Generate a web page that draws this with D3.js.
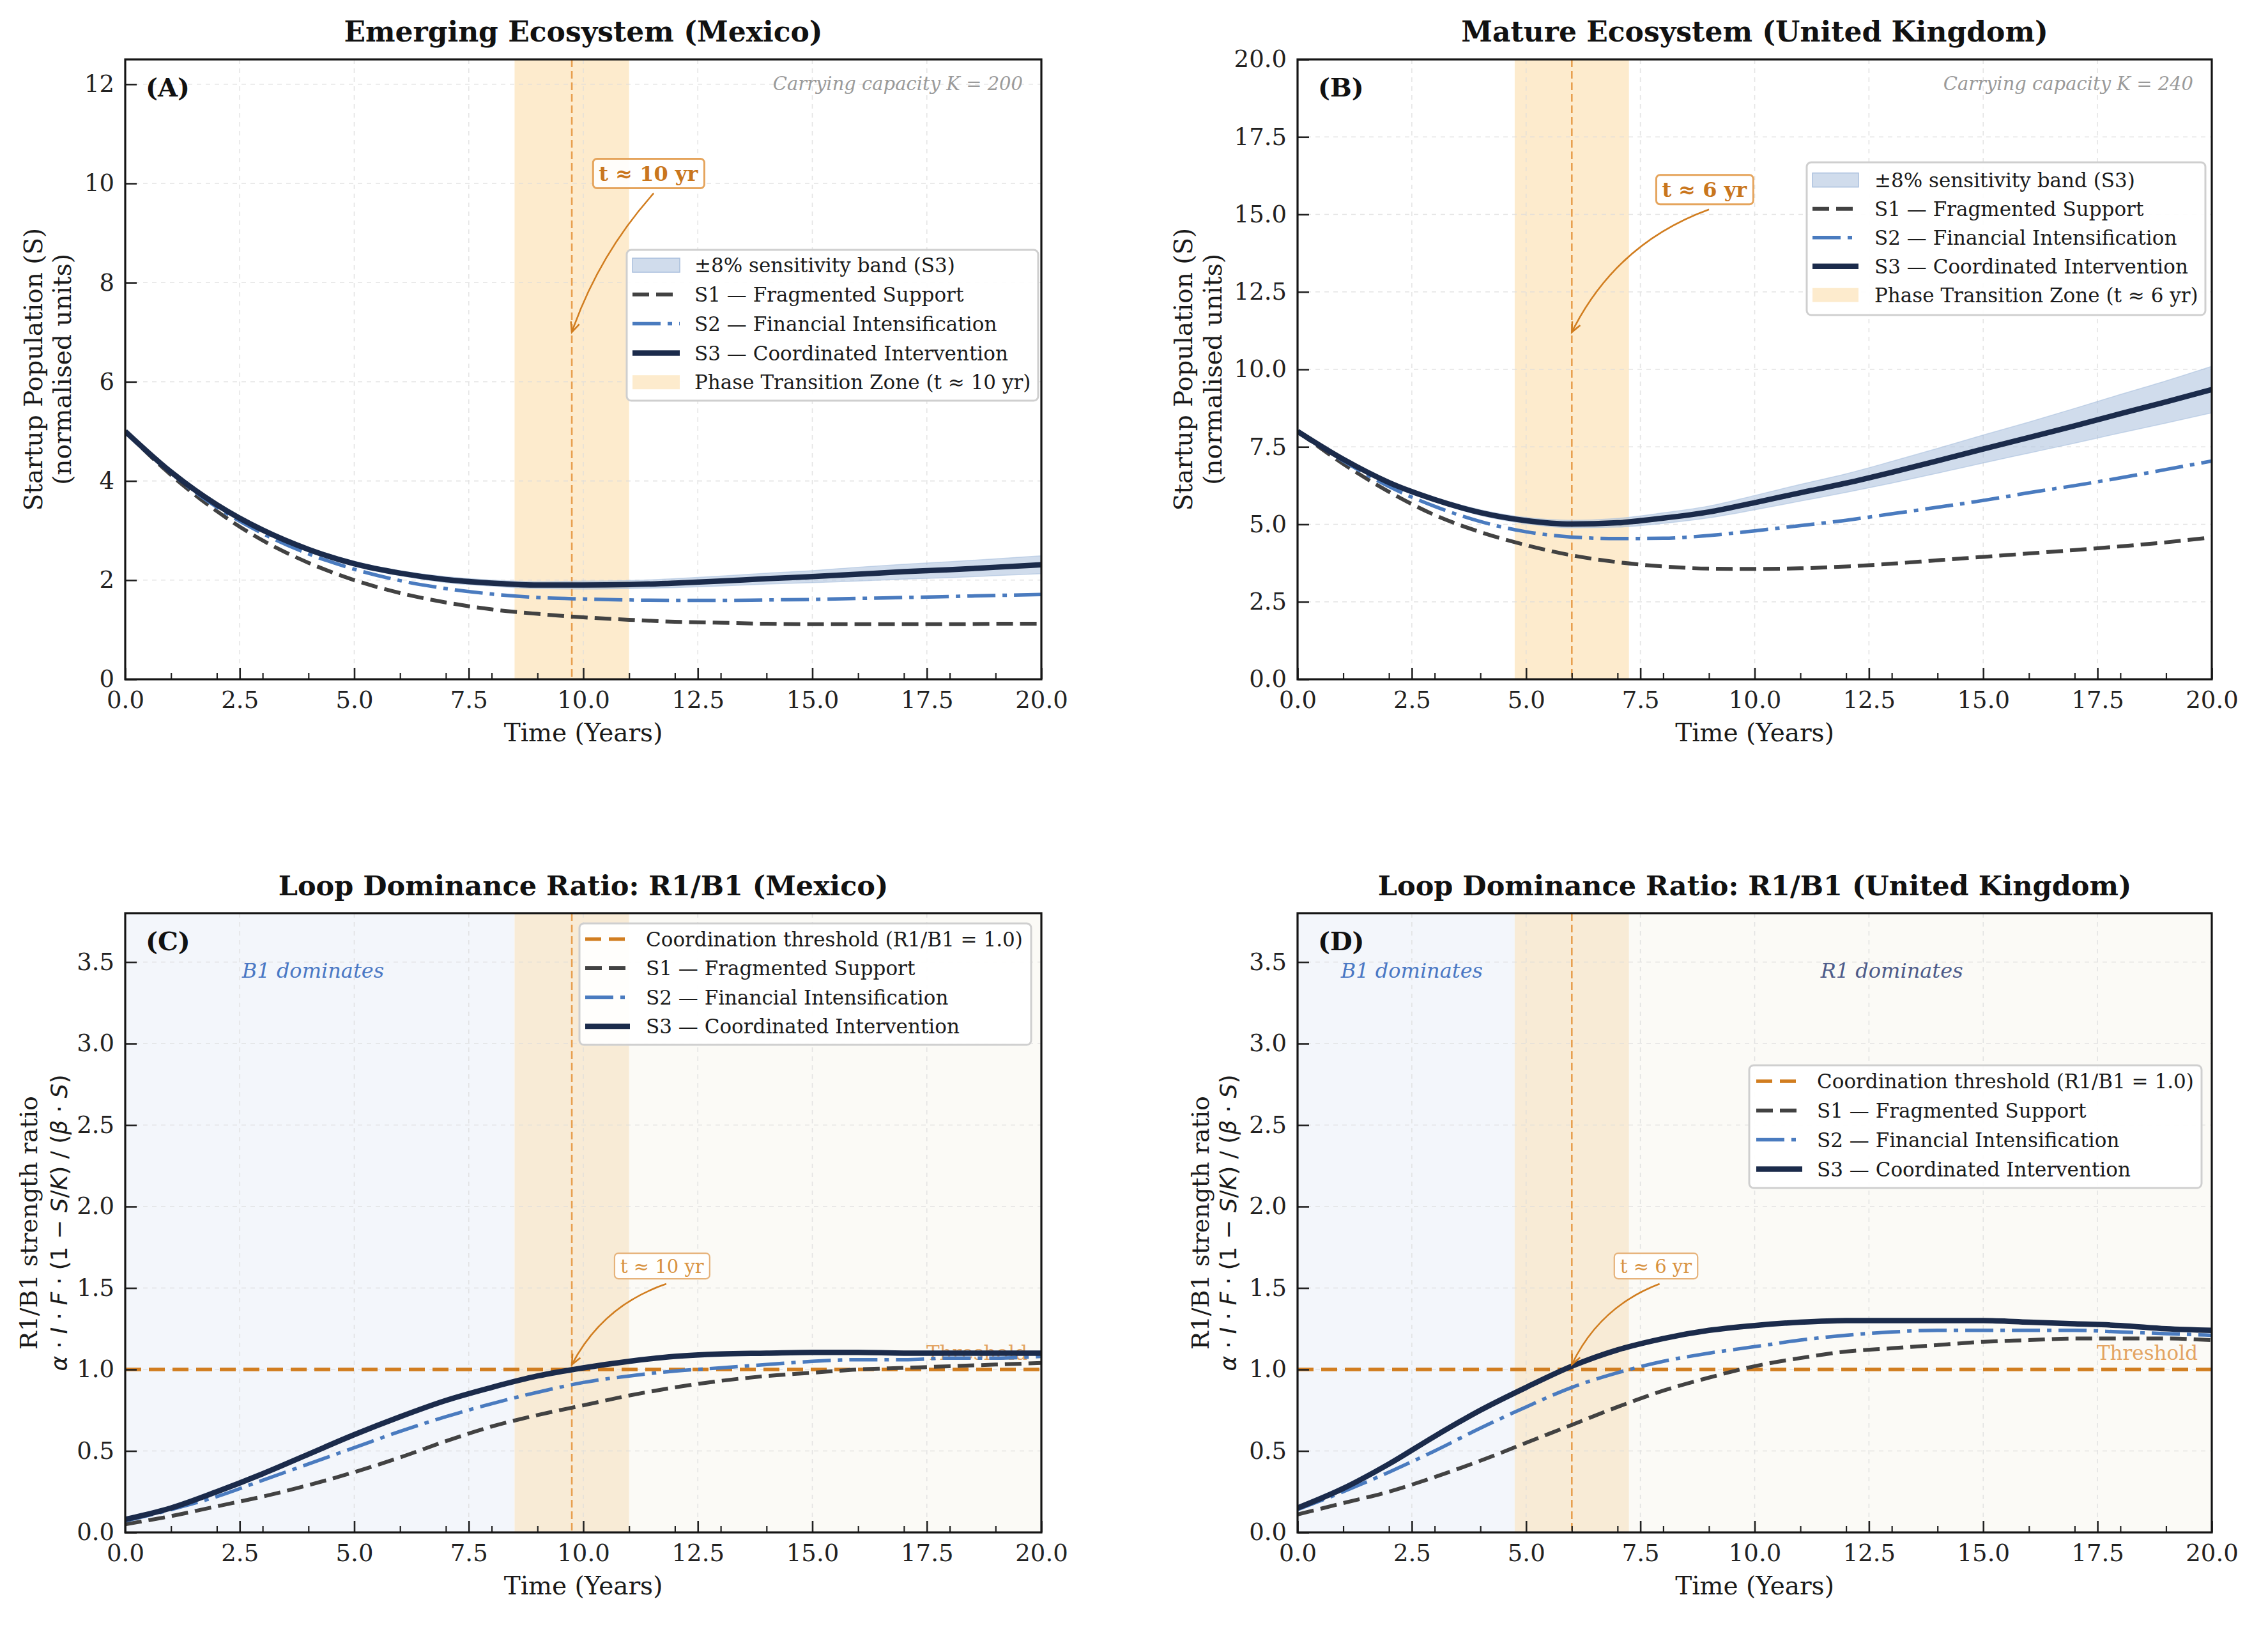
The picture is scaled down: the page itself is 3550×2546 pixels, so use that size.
<!DOCTYPE html>
<html><head><meta charset="utf-8">
<script src="https://cdn.jsdelivr.net/npm/d3@7"></script>
<style>body{margin:0;background:#fff}svg{display:block}</style>
</head><body>
<svg id="chart" width="3550" height="2546"></svg>
<script>
// ---------------- DATA ----------------
const years = [0,1,2,3,4,5,6,7,8,9,10,11,12,13,14,15,16,17,18,19,20];

const mexPopS1 = [5.00,4.12,3.39,2.80,2.35,2.00,1.74,1.55,1.41,1.32,1.25,1.20,1.16,1.14,1.12,1.11,1.11,1.11,1.11,1.12,1.12];
const mexPopS2 = [5.00,4.16,3.47,2.94,2.53,2.22,1.99,1.83,1.72,1.65,1.62,1.60,1.59,1.59,1.60,1.61,1.63,1.65,1.67,1.69,1.71];
const mexPopS3 = [5.00,4.18,3.52,3.01,2.62,2.33,2.14,2.01,1.94,1.90,1.90,1.91,1.94,1.98,2.03,2.07,2.12,2.17,2.21,2.26,2.31];
const mexBandLow  = [5.00,4.16,3.49,2.97,2.58,2.28,2.09,1.95,1.88,1.83,1.82,1.83,1.85,1.88,1.92,1.95,1.98,2.02,2.05,2.09,2.13];
const mexBandHigh = [5.00,4.20,3.55,3.05,2.66,2.38,2.19,2.07,2.00,1.97,1.98,1.99,2.03,2.08,2.14,2.19,2.26,2.32,2.37,2.43,2.49];

const ukPopS1 = [8.00,6.95,6.05,5.30,4.75,4.33,4.00,3.78,3.64,3.57,3.56,3.58,3.64,3.73,3.84,3.95,4.06,4.17,4.29,4.42,4.58];
const ukPopS2 = [8.00,7.05,6.22,5.58,5.09,4.76,4.59,4.54,4.55,4.64,4.79,4.96,5.13,5.34,5.55,5.77,6.02,6.25,6.50,6.77,7.04];
const ukPopS3 = [8.00,7.10,6.35,5.80,5.38,5.12,5.01,5.05,5.20,5.40,5.70,6.02,6.33,6.68,7.05,7.43,7.80,8.18,8.57,8.95,9.35];
const ukBandLow  = [8.00,7.07,6.30,5.73,5.29,5.02,4.89,4.91,5.03,5.21,5.47,5.75,6.03,6.33,6.65,6.98,7.30,7.62,7.95,8.27,8.60];
const ukBandHigh = [8.00,7.13,6.40,5.87,5.47,5.22,5.13,5.19,5.37,5.59,5.93,6.29,6.63,7.03,7.45,7.88,8.30,8.74,9.19,9.63,10.10];

const mexRatioS1 = [0.05,0.10,0.16,0.22,0.29,0.37,0.46,0.56,0.65,0.72,0.78,0.84,0.89,0.93,0.96,0.98,1.00,1.01,1.02,1.03,1.04];
const mexRatioS2 = [0.07,0.14,0.22,0.32,0.42,0.52,0.62,0.71,0.79,0.86,0.92,0.96,0.99,1.01,1.03,1.05,1.06,1.06,1.07,1.07,1.08];
const mexRatioS3 = [0.08,0.15,0.25,0.36,0.48,0.60,0.71,0.81,0.89,0.96,1.01,1.05,1.08,1.095,1.10,1.105,1.105,1.10,1.10,1.10,1.10];

const ukRatioS1 = [0.11,0.18,0.25,0.34,0.44,0.55,0.66,0.77,0.87,0.95,1.02,1.07,1.11,1.13,1.15,1.17,1.18,1.19,1.19,1.19,1.18];
const ukRatioS2 = [0.14,0.25,0.37,0.50,0.64,0.77,0.89,0.98,1.05,1.10,1.14,1.18,1.21,1.23,1.24,1.24,1.24,1.24,1.23,1.22,1.21];
const ukRatioS3 = [0.15,0.27,0.42,0.59,0.75,0.89,1.02,1.12,1.19,1.24,1.27,1.29,1.30,1.30,1.30,1.30,1.29,1.28,1.27,1.25,1.24];

const xTicks = [0,2.5,5,7.5,10,12.5,15,17.5,20];
const xMinorTicks = [1,2,3,4,6,7,8,9,11,12,13,14,16,17,18,19];
const popTicksMexico = [0,2,4,6,8,10,12];
const popTicksUK = [0,2.5,5,7.5,10,12.5,15,17.5,20];
const ratioTicks = [0,0.5,1,1.5,2,2.5,3,3.5];

const seriesLabels = ["S1 \u2014 Fragmented Support","S2 \u2014 Financial Intensification","S3 \u2014 Coordinated Intervention"];
const bandLabel = "\u00b18% sensitivity band (S3)";
const thresholdLabel = "Coordination threshold (R1/B1 = 1.0)";
const threshold = 1.0;

const mexTransition = 9.75, mexZone = [8.5, 11];
const ukTransition = 6.0, ukZone = [4.75, 7.25];
const mexK = 200, ukK = 240;

// ---------------- STYLE ----------------
const FONT = "DejaVu Serif";
const C_S1 = "#424242", C_S2 = "#4a7bbf", C_S3 = "#1b2b4b";
const C_ORANGE = "#d17d1f", C_ZONE = "#fdebcd", C_ZONE2 = "#f8ebd6";
const C_BLUEBG = "#f3f6fb", C_BEIGE = "#fbfaf6";
const seriesStyle = [
  {color:C_S1, width:6, dash:"26,11"},
  {color:C_S2, width:5.5, dash:"44,11,7,11"},
  {color:C_S3, width:8.5, dash:null}
];

const svg = d3.select("#chart").attr("font-family", FONT);
svg.append("rect").attr("width",3550).attr("height",2546).attr("fill","#fff");

const panels = [
  {key:"A", title:"Emerging Ecosystem (Mexico)", titleSize:44, left:196, top:93, w:1434, h:970,
   yDomain:[0,12.5], yTicks:popTicksMexico, yFmt:d3.format("d"), kind:"pop",
   series:[mexPopS1,mexPopS2,mexPopS3], band:[mexBandLow,mexBandHigh], trans:mexTransition, zone:mexZone, K:mexK,
   ylab:["Startup Population (S)","(normalised units)"], ylabX:[52,97],
   box:{t:11.42, v:10.2, text:"t \u2248 10 yr"}, arrowTo:[mexTransition, 7.0], rad:0.1,
   legend:{left:981, top:391, right:1625, bottom:627, row0:415, step:45.8, h0:990, h1:1064, tx:1087},
   zoneLabel:"Phase Transition Zone (t \u2248 10 yr)"},
  {key:"B", title:"Mature Ecosystem (United Kingdom)", titleSize:44, left:2031, top:93, w:1431, h:970,
   yDomain:[0,20], yTicks:popTicksUK, yFmt:d3.format(".1f"), kind:"pop",
   series:[ukPopS1,ukPopS2,ukPopS3], band:[ukBandLow,ukBandHigh], trans:ukTransition, zone:ukZone, K:ukK,
   ylab:["Startup Population (S)","(normalised units)"], ylabX:[1852,1898],
   box:{t:8.9, v:15.8, text:"t \u2248 6 yr"}, arrowTo:[ukTransition, 11.2], rad:0.2,
   legend:{left:2828, top:254, right:3452, bottom:493, row0:281.7, step:45, h0:2837, h1:2909, tx:2934},
   zoneLabel:"Phase Transition Zone (t \u2248 6 yr)"},
  {key:"C", title:"Loop Dominance Ratio: R1/B1 (Mexico)", titleSize:43, left:196, top:1429, w:1434, h:969,
   yDomain:[0,3.8], yTicks:ratioTicks, yFmt:d3.format(".1f"), kind:"ratio",
   series:[mexRatioS1,mexRatioS2,mexRatioS3], trans:mexTransition, zone:mexZone,
   ylabX:[44,92], b1:4.1, r1:null,
   box:{t:11.72, v:1.635, text:"t \u2248 10 yr"}, arrowTo:[mexTransition, 1.03], rad:0.2,
   legend:{left:907, top:1445, right:1614, bottom:1635, row0:1469.5, step:45.5, h0:916, h1:986, tx:1011}},
  {key:"D", title:"Loop Dominance Ratio: R1/B1 (United Kingdom)", titleSize:43, left:2031, top:1429, w:1431, h:969,
   yDomain:[0,3.8], yTicks:ratioTicks, yFmt:d3.format(".1f"), kind:"ratio",
   series:[ukRatioS1,ukRatioS2,ukRatioS3], trans:ukTransition, zone:ukZone,
   ylabX:[1878,1922], b1:2.5, r1:13,
   box:{t:7.84, v:1.635, text:"t \u2248 6 yr"}, arrowTo:[ukTransition, 1.03], rad:0.2,
   legend:{left:2738, top:1667, right:3446, bottom:1859, row0:1692, step:45.8, h0:2749, h1:2821, tx:2844}}
];

function drawArrow(g, x1, y1, x2, y2, rad, color, width) {
  const mx=(x1+x2)/2, my=(y1+y2)/2, dx=x2-x1, dy=y2-y1;
  const cx = mx - rad*dy, cy = my + rad*dx;
  const p = d3.path(); p.moveTo(x1,y1); p.quadraticCurveTo(cx,cy,x2,y2);
  g.append("path").attr("d", p.toString()).attr("fill","none").attr("stroke",color).attr("stroke-width",width);
  const ang = Math.atan2(y2-cy, x2-cx), L=17, W=0.42;
  const h = d3.path();
  h.moveTo(x2 - L*Math.cos(ang-W), y2 - L*Math.sin(ang-W));
  h.lineTo(x2, y2);
  h.lineTo(x2 - L*Math.cos(ang+W), y2 - L*Math.sin(ang+W));
  g.append("path").attr("d", h.toString()).attr("fill","none").attr("stroke",color).attr("stroke-width",width);
}

panels.forEach((P) => {
  const g = svg.append("g");
  const x = d3.scaleLinear().domain([0,20]).range([P.left, P.left+P.w]);
  const y = d3.scaleLinear().domain(P.yDomain).range([P.top+P.h, P.top]);
  const clipId = "clip"+P.key;
  svg.append("clipPath").attr("id", clipId).append("rect")
    .attr("x",P.left).attr("y",P.top).attr("width",P.w).attr("height",P.h);
  const inner = g.append("g").attr("clip-path", `url(#${clipId})`);

  // background spans
  if (P.kind === "ratio") {
    inner.append("rect").attr("x", x(0)).attr("width", x(P.zone[0])-x(0))
      .attr("y",P.top).attr("height",P.h).attr("fill",C_BLUEBG);
    inner.append("rect").attr("x", x(P.zone[1])).attr("width", x(20)-x(P.zone[1]))
      .attr("y",P.top).attr("height",P.h).attr("fill",C_BEIGE);
  }
  inner.append("rect").attr("x", x(P.zone[0])).attr("width", x(P.zone[1])-x(P.zone[0]))
    .attr("y",P.top).attr("height",P.h).attr("fill", P.kind==="ratio" ? C_ZONE2 : C_ZONE);

  // grid
  const grid = inner.append("g").attr("stroke","#dcdcdc").attr("stroke-width",1.6)
    .attr("stroke-dasharray","7,7").attr("opacity",0.75);
  xTicks.forEach(t => grid.append("line").attr("x1",x(t)).attr("x2",x(t)).attr("y1",P.top).attr("y2",P.top+P.h));
  P.yTicks.forEach(v => grid.append("line").attr("x1",P.left).attr("x2",P.left+P.w).attr("y1",y(v)).attr("y2",y(v)));

  // transition line
  inner.append("line").attr("x1",x(P.trans)).attr("x2",x(P.trans)).attr("y1",P.top).attr("y2",P.top+P.h)
    .attr("stroke","#e8a050").attr("stroke-width",2.6).attr("stroke-dasharray","12,6");

  if (P.kind === "ratio") {
    inner.append("line").attr("x1",x(0)).attr("x2",x(20)).attr("y1",y(threshold)).attr("y2",y(threshold))
      .attr("stroke",C_ORANGE).attr("stroke-width",5.5).attr("stroke-dasharray","25,12");
    inner.append("text").attr("x", x(20)-22).attr("y", y(threshold)-15).attr("text-anchor","end")
      .attr("font-size",31).attr("fill","#e3a462").text("Threshold");
    inner.append("text").attr("x", x(P.b1)).attr("y", y(3.45)).attr("dy","0.36em").attr("text-anchor","middle")
      .attr("font-size",32).attr("font-style","italic").attr("fill","#4a78c4").text("B1 dominates");
    if (P.r1 !== null) {
      inner.append("text").attr("x", x(P.r1)).attr("y", y(3.45)).attr("dy","0.36em").attr("text-anchor","middle")
        .attr("font-size",32).attr("font-style","italic").attr("fill","#4d5b8a").text("R1 dominates");
    }
  }

  // sensitivity band
  if (P.kind === "pop") {
    const area = d3.area().x((d,i)=>x(years[i])).y0((d,i)=>y(P.band[0][i])).y1((d,i)=>y(P.band[1][i]))
      .curve(d3.curveMonotoneX);
    inner.append("path").attr("d", area(years)).attr("fill","#a9bfdd").attr("fill-opacity",0.55)
      .attr("stroke","#a9bfdd").attr("stroke-width",1.5).attr("stroke-opacity",0.6);
  }

  // lines
  const line = d3.line().x((d,i)=>x(years[i])).y(d=>y(d)).curve(d3.curveMonotoneX);
  P.series.forEach((s, si) => {
    const st = seriesStyle[si];
    const p = inner.append("path").attr("d", line(s)).attr("fill","none")
      .attr("stroke", st.color).attr("stroke-width", st.width).attr("stroke-linejoin","round");
    if (st.dash) p.attr("stroke-dasharray", st.dash);
  });

  // annotation
  const ann = g.append("g");
  const bx = x(P.box.t), by = y(P.box.v);
  const isBold = P.kind === "pop";
  const txt = ann.append("text").attr("x",bx).attr("y",by).attr("dy","0.36em").attr("text-anchor","middle")
    .attr("font-size", isBold ? 32 : 29).attr("font-weight", isBold ? "bold" : "normal")
    .attr("fill", isBold ? "#c9761d" : "#d8923f").text(P.box.text);
  const bb = txt.node().getBBox();
  const padX = 9;
  const bTop = by - (isBold ? 23 : 20), bBot = by + (isBold ? 23 : 20);
  ann.insert("rect","text").attr("x", bb.x-padX).attr("y", bTop).attr("width", bb.width+2*padX)
    .attr("height", bBot-bTop).attr("rx",6).attr("fill","#fff").attr("fill-opacity",0.9)
    .attr("stroke", isBold ? "#e5a45c" : "#e6b27a").attr("stroke-width", isBold ? 3 : 2.2);
  const ax = x(P.arrowTo[0]), ay = y(P.arrowTo[1]);
  const sx = bb.x + bb.width*0.55, sy = bBot + 8;
  drawArrow(ann, sx, sy, ax, ay, P.rad, C_ORANGE, 2.6);

  // panel letter & note
  g.append("text").attr("x", P.left+32).attr("y", P.top+58).attr("font-size",40).attr("font-weight","bold")
    .attr("fill","#111").text(`(${P.key})`);
  if (P.kind === "pop") {
    g.append("text").attr("x", P.left+P.w-29).attr("y", P.top+48).attr("text-anchor","end")
      .attr("font-size",29).attr("font-style","italic").attr("fill","#9a9a9a")
      .text(`Carrying capacity K = ${P.K}`);
  }

  // legend
  const L = P.legend;
  const lg = g.append("g");
  lg.append("rect").attr("x",L.left).attr("y",L.top).attr("width",L.right-L.left).attr("height",L.bottom-L.top)
    .attr("rx",7).attr("fill","#fff").attr("fill-opacity",0.93).attr("stroke","#cfcfcf").attr("stroke-width",3);
  const items = [];
  if (P.kind === "pop") items.push({type:"band", label:bandLabel});
  else items.push({type:"thr", label:thresholdLabel});
  seriesLabels.forEach((lab, si) => items.push({type:"line", si, label:lab}));
  if (P.kind === "pop") items.push({type:"zone", label:P.zoneLabel});
  items.forEach((it, k) => {
    const cy = L.row0 + k*L.step;
    if (it.type === "band") {
      lg.append("rect").attr("x",L.h0).attr("y",cy-11).attr("width",L.h1-L.h0).attr("height",22)
        .attr("fill","#a9bfdd").attr("fill-opacity",0.55).attr("stroke","#a9bfdd").attr("stroke-width",1.5);
    } else if (it.type === "zone") {
      lg.append("rect").attr("x",L.h0).attr("y",cy-11).attr("width",L.h1-L.h0).attr("height",22).attr("fill",C_ZONE);
    } else if (it.type === "thr") {
      lg.append("line").attr("x1",L.h0).attr("x2",L.h1).attr("y1",cy).attr("y2",cy)
        .attr("stroke",C_ORANGE).attr("stroke-width",5.5).attr("stroke-dasharray","25,12");
    } else {
      const st = seriesStyle[it.si];
      const l = lg.append("line").attr("x1",L.h0).attr("x2",L.h1).attr("y1",cy).attr("y2",cy)
        .attr("stroke",st.color).attr("stroke-width",st.width);
      if (st.dash) l.attr("stroke-dasharray", st.dash);
    }
    lg.append("text").attr("x",L.tx).attr("y",cy).attr("dy","0.36em").attr("font-size",31)
      .attr("fill","#1a1a1a").text(it.label);
  });

  // axes
  const xAxis = d3.axisBottom(x).tickValues(xTicks).tickFormat(d3.format(".1f"))
    .tickSizeInner(-18).tickSizeOuter(0).tickPadding(19);
  const gx = g.append("g").attr("transform",`translate(0,${P.top+P.h})`).call(xAxis);
  const xMinor = d3.axisBottom(x).tickValues(xMinorTicks).tickFormat("").tickSizeInner(-10).tickSizeOuter(0);
  const gxm = g.append("g").attr("transform",`translate(0,${P.top+P.h})`).call(xMinor);
  const yAxis = d3.axisLeft(y).tickValues(P.yTicks).tickFormat(P.yFmt)
    .tickSizeInner(-18).tickSizeOuter(0).tickPadding(17);
  const gy = g.append("g").attr("transform",`translate(${P.left},0)`).call(yAxis);
  [gx, gxm, gy].forEach(a => {
    a.attr("font-family", FONT).attr("font-size", 37);
    a.select(".domain").remove();
    a.selectAll(".tick line").attr("stroke","#222").attr("stroke-width",2.6);
    a.selectAll(".tick text").attr("fill","#222");
  });
  gxm.selectAll(".tick line").attr("stroke-width",2.2);

  // frame
  g.append("rect").attr("x",P.left).attr("y",P.top).attr("width",P.w).attr("height",P.h)
    .attr("fill","none").attr("stroke","#151515").attr("stroke-width",3.2);

  // titles and axis labels
  g.append("text").attr("x", P.left+P.w/2).attr("y", P.top-28).attr("text-anchor","middle")
    .attr("font-size",P.titleSize).attr("font-weight","bold").attr("fill","#111").text(P.title);
  g.append("text").attr("x", P.left+P.w/2).attr("y", P.top+P.h+97).attr("text-anchor","middle")
    .attr("font-size",39).attr("fill","#1a1a1a").text("Time (Years)");

  const cyMid = P.top + P.h/2;
  if (P.kind === "pop") {
    P.ylab.forEach((lab, k) => {
      g.append("text").attr("transform",`translate(${P.ylabX[k]},${cyMid}) rotate(-90)`)
        .attr("text-anchor","middle").attr("dy","0.36em").attr("font-size",39).attr("fill","#1a1a1a").text(lab);
    });
  } else {
    g.append("text").attr("transform",`translate(${P.ylabX[0]},${cyMid}) rotate(-90)`)
      .attr("text-anchor","middle").attr("dy","0.36em").attr("font-size",38).attr("fill","#1a1a1a")
      .text("R1/B1 strength ratio");
    const m = g.append("text").attr("transform",`translate(${P.ylabX[1]},${cyMid}) rotate(-90)`)
      .attr("text-anchor","middle").attr("dy","0.36em").attr("font-size",36).attr("fill","#1a1a1a")
      .attr("font-family","DejaVu Sans");
    const parts = [["\u03b1",1],[" \u00b7 ",0],["I",1],[" \u00b7 ",0],["F",1],[" \u00b7 (1 \u2212 ",0],["S",1],["/",0],["K",1],[") / (",0],["\u03b2",1],[" \u00b7 ",0],["S",1],[")",0]];
    parts.forEach(([s, it]) => m.append("tspan").attr("font-style", it ? "italic" : "normal").text(s));
  }
});
</script>
</body></html>
